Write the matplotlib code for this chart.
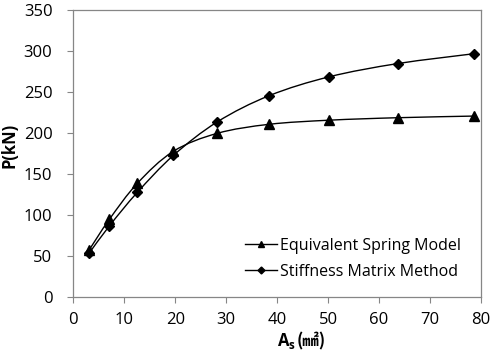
import numpy as np
import matplotlib
matplotlib.use("Agg")
import matplotlib.pyplot as plt
from matplotlib.path import Path
from matplotlib.patches import PathPatch
from matplotlib.lines import Line2D

area = [3.14, 7.07, 12.57, 19.63, 28.27, 38.48, 50.27, 63.62, 78.54]
spring = [58, 95, 139, 178, 200, 211, 216, 219, 221]
stiffness = [54, 87, 128, 173, 214, 246, 269, 285, 297]
xticks = [0, 10, 20, 30, 40, 50, 60, 70, 80]
yticks = [0, 50, 100, 150, 200, 250, 300, 350]

plt.rcParams['font.family'] = ['Open Sans', 'Noto Sans CJK SC', 'DejaVu Sans']
plt.rcParams['mathtext.fontset'] = 'custom'
plt.rcParams['mathtext.bf'] = 'Open Sans:bold'
plt.rcParams['mathtext.rm'] = 'Open Sans'

fig = plt.figure(figsize=(5.0, 3.59), dpi=100)
ax = fig.add_axes([0.1466, 0.1719, 0.8154, 0.7994])


def smooth_path(xs, ys, t=0.5):
    pts = np.column_stack([np.asarray(xs, float), np.asarray(ys, float)])
    verts = [pts[0]]
    codes = [Path.MOVETO]
    n = len(pts)
    for i in range(n - 1):
        p0 = pts[i - 1] if i > 0 else pts[i]
        p1 = pts[i]
        p2 = pts[i + 1]
        p3 = pts[i + 2] if i + 2 < n else pts[i + 1]
        c1 = p1 + (p2 - p0) * t / 3
        c2 = p2 - (p3 - p1) * t / 3
        verts += [c1, c2, p2]
        codes += [Path.CURVE4] * 3
    return Path(verts, codes)


for ys in (spring, stiffness):
    ax.add_patch(PathPatch(smooth_path(area, ys, 0.5), fill=False, edgecolor='black', lw=1.0, zorder=2))

ax.plot(area, spring, linestyle='none', marker='^', color='black', markersize=6.5, zorder=3)
ax.plot(area, stiffness, linestyle='none', marker='D', color='black', markersize=5.3, zorder=3)

ax.set_xlim(0, 80)
ax.set_ylim(0, 350)
ax.set_xticks(xticks)
ax.set_yticks(yticks)
ax.tick_params(direction='out', length=4, width=0.8, color='#868686', labelsize=12)
ax.tick_params(axis='y', pad=11)
ax.tick_params(axis='x', pad=6.5)
for s in ax.spines.values():
    s.set_color('#868686')
    s.set_linewidth(0.9)

ax.set_ylabel('P(kN)', fontsize=12, fontweight='bold')
ax.yaxis.set_label_coords(-0.134, 0.53)

fig.text(0.592, 0.036, r'$\mathbf{A}_{\mathbf{s}}$', fontsize=12, ha='right', va='baseline')
fig.text(0.594, 0.036, '(㎟)', fontsize=12, fontweight='bold', ha='left', va='baseline',
         family=['Noto Sans CJK SC', 'DejaVu Sans'])

handles = [Line2D([], [], color='black', lw=1.0, marker='^', markersize=4.5),
           Line2D([], [], color='black', lw=1.0, marker='D', markersize=3.5)]
ax.legend(handles, ['Equivalent Spring Model', 'Stiffness Matrix Method'],
          loc='lower right', bbox_to_anchor=(0.985, 0.01), frameon=False,
          fontsize=11.5, handlelength=2.0, handletextpad=0.15, labelspacing=0.65)

fig.savefig('out.png', dpi=100)
